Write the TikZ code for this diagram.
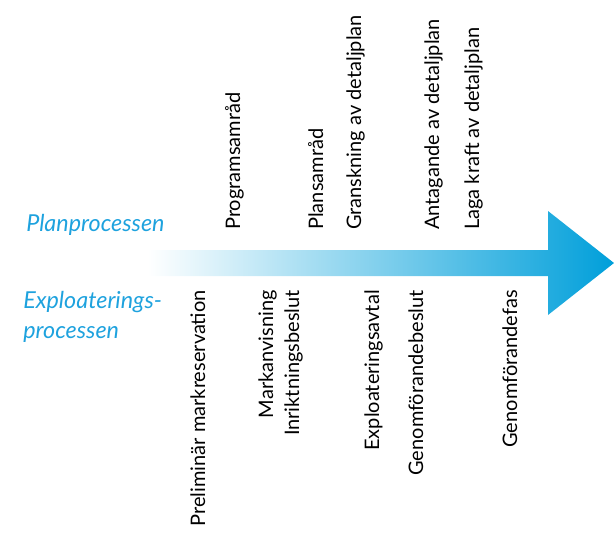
\documentclass[tikz,border=0pt]{standalone}
\usepackage{fontspec}
\setmainfont{Lato}
\usetikzlibrary{positioning}
\definecolor{planc}{HTML}{1EA2DE}
\definecolor{arrowc}{HTML}{009FDA}

\begin{document}
\begin{tikzpicture}[x=0.75pt, y=0.75pt,
  steplabel/.style={rotate=90, inner sep=0pt, font=\fontsize{15}{18}\selectfont},
  uppstep/.style={steplabel, anchor=base west},
  nedstep/.style={steplabel, anchor=base east},
  processc/.style={inner sep=0pt, anchor=base west, text=planc,
    font=\fontsize{17.5}{21}\selectfont\itshape}]
  \useasboundingbox (0,0) rectangle (614,533);
  % pilen
  \shade[left color=white, right color=arrowc]
    (148,283) -- (548,283) -- (548,322) -- (614,270) -- (548,218)
    -- (548,257) -- (148,257) -- cycle;
  % processerna
  \node[processc] (plan) at (26,302) {Planprocessen};
  \node[processc] (explo) at (23,225) {Exploaterings-};
  \node[processc] (exploB) at ([yshift=-22.5pt]explo.base west) {processen};
  % planprocessens steg
  \node[uppstep] (progsam) at (240,303) {Programsamråd};
  \node[uppstep] (plansam) at (323,303) {Plansamråd};
  \node[uppstep] (gransk) at (361,303) {Granskning av detaljplan};
  \node[uppstep] (antag) at (439,303) {Antagande av detaljplan};
  \node[uppstep] (laga) at (479,303) {Laga kraft av detaljplan};
  % exploateringsprocessens steg
  \node[nedstep] (prelim) at (205,243) {Preliminär markreservation};
  \node[nedstep] (markanv) at (273,243) {Markanvisning};
  \node[nedstep] (inrikt) at (299,243) {Inriktningsbeslut};
  \node[nedstep] (explavt) at (379,243) {Exploateringsavtal};
  \node[nedstep] (genbes) at (423,243) {Genomförandebeslut};
  \node[nedstep] (genfas) at (517,243) {Genomförandefas};
\end{tikzpicture}
\end{document}
